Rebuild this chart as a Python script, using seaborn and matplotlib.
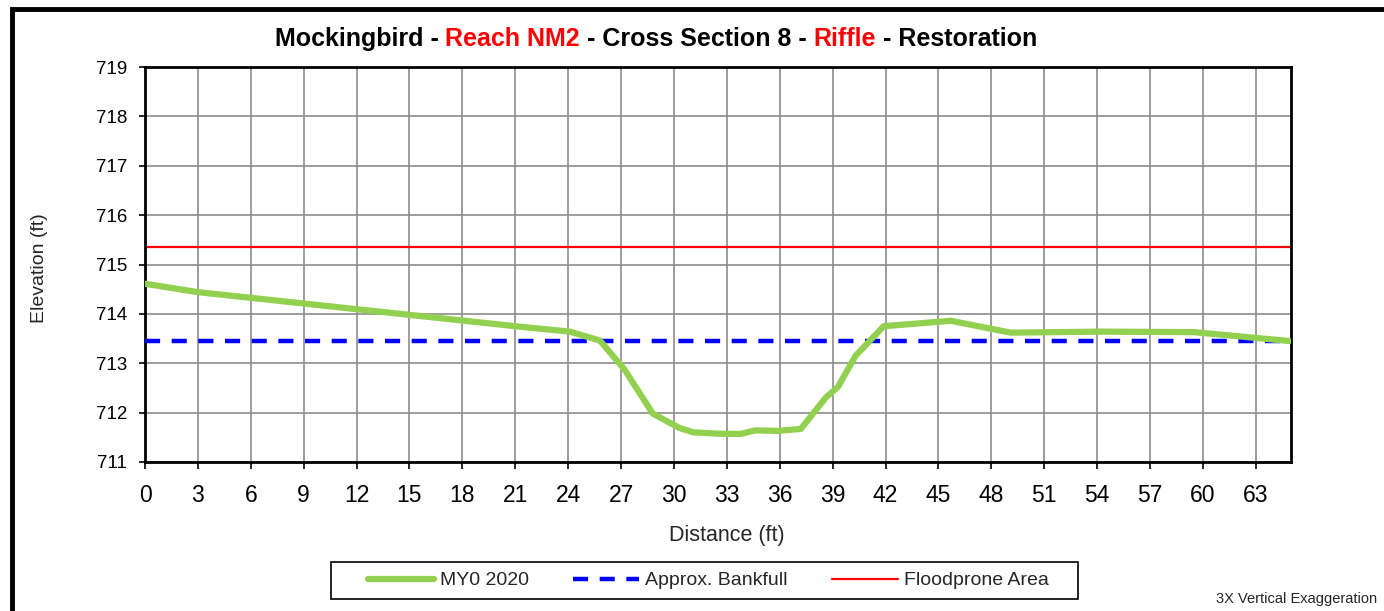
import matplotlib
matplotlib.use("Agg")
import matplotlib.pyplot as plt
import seaborn as sns
import pandas as pd
from matplotlib.offsetbox import TextArea, HPacker, AnchoredOffsetbox
from matplotlib.patches import Rectangle

# surveyed cross section (MY0 2020)
distance = [0, 3, 9, 15, 21, 24.1, 25.8, 27.2, 28.8, 30.3, 31.1, 32.7, 33.8,
            34.6, 35.9, 37.2, 38.6, 39.3, 40.3, 41.9, 45.7, 49.1, 54.2, 59.5, 64.9]
elevation = [714.61, 714.44, 714.21, 713.98, 713.75, 713.64, 713.46, 712.87, 711.98,
             711.69, 711.60, 711.57, 711.57, 711.64, 711.63, 711.67, 712.30, 712.52,
             713.15, 713.75, 713.86, 713.62, 713.64, 713.63, 713.45]
bankfull = 713.45
floodprone = 715.35
x_ticks = list(range(0, 64, 3))
y_ticks = list(range(711, 720))

sns.set_style("white")
plt.rcParams['font.family'] = ['Liberation Sans', 'DejaVu Sans']

df = pd.DataFrame({"Distance": distance, "Elevation": elevation})

fig = plt.figure(figsize=(13.84, 6.11), dpi=100)
ax = fig.add_axes([0.1048, 0.2439, 0.828, 0.6464])

ax.axhline(floodprone, color="#ff0000", lw=1.6, zorder=2, label="Floodprone Area")
ax.axhline(bankfull, color="#0000ff", lw=3.2, ls=(0, (3.4, 2.6)), zorder=3, label="Approx. Bankfull")
sns.lineplot(data=df, x="Distance", y="Elevation", ax=ax, color="#92d050", lw=4.5,
             zorder=4, sort=False, label="MY0 2020")

ax.set_xlim(0, 65)
ax.set_ylim(711, 719)
ax.set_xticks(x_ticks)
ax.set_yticks(y_ticks)
ax.grid(True, color="#8c8c8c", lw=1.2)
ax.tick_params(axis="both", direction="out", width=1.2, colors="black", left=True, bottom=True)
ax.tick_params(axis="x", labelsize=16.5, length=5, pad=11)
ax.tick_params(axis="y", labelsize=13.5, length=4.5, pad=8.5)
for s in ax.spines.values():
    s.set_color("black")
    s.set_linewidth(2)
ax.set_xlabel("Distance (ft)", fontsize=15.5, va="center")
ax.set_ylabel("Elevation (ft)", fontsize=14, va="center")
ax.xaxis.set_label_coords(0.5075, -0.187)
ax.yaxis.set_label_coords(-0.0925, 0.49)

# legend below the chart (frame drawn separately, Excel-style padding)
h, l = ax.get_legend_handles_labels()
order = [l.index("MY0 2020"), l.index("Approx. Bankfull"), l.index("Floodprone Area")]
ax.get_legend().remove()
fig.legend([h[i] for i in order], [l[i] for i in order], ncol=3,
           loc="center", bbox_to_anchor=(0.5119, 0.0499), fontsize=14,
           frameon=False, handlelength=3.4, handletextpad=0.3, columnspacing=2.27,
           borderpad=0, borderaxespad=0)
fig.add_artist(Rectangle((0.2392, 0.0196), 0.5397, 0.0606, transform=fig.transFigure,
                         fill=False, edgecolor="black", lw=1.2))

# title with red parts
parts = [("Mockingbird - ", "black"), ("Reach NM2", "#ff0000"), (" - Cross Section 8 - ", "black"),
         ("Riffle", "#ff0000"), (" - Restoration", "black")]
boxes = [TextArea(t, textprops=dict(color=c, fontsize=18, fontweight="bold")) for t, c in parts]
title = AnchoredOffsetbox(loc="center", child=HPacker(children=boxes, pad=0, sep=0),
                          bbox_to_anchor=(0.474, 0.936), bbox_transform=fig.transFigure,
                          frameon=False, pad=0, borderpad=0)
fig.add_artist(title)

fig.text(0.995, 0.02, "3X Vertical Exaggeration", ha="right", va="center", fontsize=10.5)

# outer frame
fig.add_artist(Rectangle((0.0085, -0.05), 1.1, 1.036, transform=fig.transFigure,
                         fill=False, edgecolor="black", lw=3.5))

fig.savefig("out.png", dpi=100)
